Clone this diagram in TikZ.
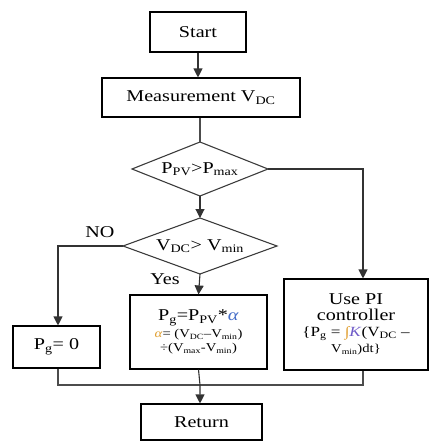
\documentclass[tikz,border=0pt]{standalone}
\usepackage{fontspec}
\setmainfont{Liberation Serif}[FakeStretch=1.22]
\usepackage{xcolor}
\usepackage{tikz}
\usetikzlibrary{shapes.geometric, arrows.meta, positioning, calc}
\definecolor{mygray}{RGB}{60,60,60}
\definecolor{myblue}{RGB}{70,110,200}
\definecolor{myorange}{RGB}{225,160,50}
\definecolor{myviolet}{RGB}{110,90,200}
\newcommand{\sub}[1]{\textsubscript{#1}}
\tikzset{
  block/.style={rectangle, draw=black, fill=white, align=center,
    font=\fontsize{16.5}{14}\selectfont, inner sep=2pt, line width=1.1pt},
  dtext/.style={align=center, font=\fontsize{16.5}{14}\selectfont, inner sep=0pt},
  dshape/.style={draw=mygray, line width=1.1pt, line join=miter},
  arrow/.style={-{Triangle[width=9pt,length=9pt]}, line width=1.1pt, color=black!80},
  line/.style={line width=1.1pt, color=black!70},
  lbl/.style={font=\fontsize{16.5}{16}\selectfont}
}

\begin{document}
\begin{tikzpicture}[x=1pt, y=-1pt]
  \useasboundingbox (0,0) rectangle (429,442);
  % Boxes
  \node[block, minimum width=96pt, minimum height=40pt] (start) at (198,32) {Start};
  \node[block, minimum width=198pt, minimum height=39pt] (meas) at (201,97.5) {Measurement V\sub{DC}};
  % Decisions
  \node[dtext] (pcheck) at (200,169) {P\sub{PV}>P\sub{max}};
  \draw[dshape] ($(pcheck)+(-68,0)$) coordinate (pcheck-w) -- ($(pcheck)+(0,-27)$) coordinate (pcheck-n)
    -- ($(pcheck)+(68,0)$) coordinate (pcheck-e) -- ($(pcheck)+(0,27)$) coordinate (pcheck-s) -- cycle;
  \node[dtext] (vcheck) at (200,246) {V\sub{DC}> V\sub{min}};
  \draw[dshape] ($(vcheck)+(-77,0)$) coordinate (vcheck-w) -- ($(vcheck)+(0,-28)$) coordinate (vcheck-n)
    -- ($(vcheck)+(77,0)$) coordinate (vcheck-e) -- ($(vcheck)+(0,28)$) coordinate (vcheck-s) -- cycle;
  \node[block, minimum width=87pt, minimum height=42pt] (pzero) at (56.5,347) {P\sub{g}= 0};
  \node[block, minimum width=137pt, minimum height=74pt] (pcalc) at (198.5,332)
    {P\sub{g}=P\sub{PV}*\textcolor{myblue}{\textit{α}}\\[3pt]
     \fontsize{12}{15}\selectfont \textcolor{myorange}{\textit{α}}= (V\sub{DC}–V\sub{min})\\
     \fontsize{12}{15}\selectfont ÷(V\sub{max}-V\sub{min})};
  \node[block, minimum width=144pt, minimum height=91pt, font=\fontsize{16.5}{16}\selectfont] (pictrl) at (356,324.5)
    {Use PI\\controller\\
     \fontsize{14}{16}\selectfont \{P\sub{g} = \textcolor{myorange}{∫}\textcolor{myviolet}{\textit{K}}(V\sub{DC} –\\
     \fontsize{12}{15}\selectfont V\sub{min})dt\}};
  \node[block, minimum width=121pt, minimum height=36pt] (ret) at (201.5,422) {Return};
  % Labels
  \node[lbl] (nolbl) at (100,232) {NO};
  \node[lbl] (yeslbl) at (165,279) {Yes};
  % Connectors
  \coordinate (merge) at (200,385);
  \draw[arrow] (start.south) -- (start.south |- meas.north);
  \draw[line] (meas.south -| pcheck-n) -- (pcheck-n);
  \draw[arrow] (pcheck-s) -- (vcheck-n);
  \draw[arrow] (pcheck-e) -| ([xshift=7pt]pictrl.north);
  \draw[arrow] (vcheck-w) -| ([xshift=1.5pt]pzero.north);
  \draw[arrow] (vcheck-s) -- (pcalc.north);
  \draw[line] ([xshift=1.5pt]pzero.south) |- (merge) -| ([xshift=7pt]pictrl.south);
  \draw[arrow] (pcalc.south) -- (merge) -- (merge |- ret.north);
\end{tikzpicture}
\end{document}
